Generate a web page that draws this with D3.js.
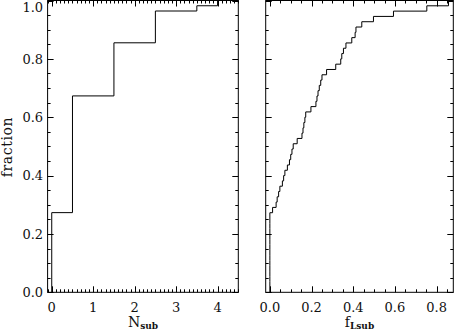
<!DOCTYPE html>
<html><head><meta charset="utf-8">
<script src="https://cdn.jsdelivr.net/npm/d3@7"></script>
<style>
html,body{margin:0;padding:0;background:#fff;}
svg text{font-family:"DejaVu Serif","Liberation Serif",serif;fill:#111;}
</style></head>
<body><svg id="c" width="457" height="332"></svg>
<script>
// ---- data ----
// Left panel: cumulative fraction of N_sub (step edges and levels)
const nsubStepX = [0, 0.5, 1.5, 2.5, 3.5, 4.0];
const nsubFraction = [0.273, 0.673, 0.855, 0.964, 0.982, 1.0];
const nsubTicks = [0, 1, 2, 3, 4];
// Right panel: sorted f_Lsub sample (55 objects; 15 at zero)
const fLsubZeros = 15;
const fLsubValues = [0.013, 0.030, 0.035, 0.042, 0.048, 0.060, 0.066, 0.072, 0.084, 0.094,
  0.100, 0.106, 0.112, 0.131, 0.154, 0.159, 0.163, 0.168, 0.172, 0.197,
  0.221, 0.226, 0.231, 0.237, 0.244, 0.250, 0.272, 0.316, 0.340, 0.345,
  0.353, 0.365, 0.393, 0.409, 0.413, 0.441, 0.497, 0.593, 0.753, 0.857];
const fLsubTicks = [0, 0.2, 0.4, 0.6, 0.8];
const fracTicks = [0, 0.2, 0.4, 0.6, 0.8, 1.0];

(function () {
const svg = d3.select("#c");
const yTop = 0.5, yBot = 292.3;
const y = d3.scaleLinear().domain([0, 1]).range([yBot, yTop]);

function panel(x0, x1, xDomain, majorX, minorStep, yLabels) {
  const x = d3.scaleLinear().domain(xDomain).range([x0, x1]);
  const g = svg.append("g");
  const minorX = d3.range(Math.ceil(xDomain[0] / minorStep - 1e-9), Math.floor(xDomain[1] / minorStep + 1e-9) + 1).map(i => +(i * minorStep).toFixed(4));
  const minorY = d3.range(0, 21).map(i => +(i * 0.05).toFixed(4));
  minorX.forEach(v => {
    const isMaj = majorX.some(m => Math.abs(m - v) < 1e-6);
    const len = isMaj ? 6 : 3;
    const px = Math.round(x(v)) + 0.5;
    g.append("line").attr("x1", px).attr("x2", px).attr("y1", yBot).attr("y2", yBot - len).attr("stroke", "#000");
    g.append("line").attr("x1", px).attr("x2", px).attr("y1", yTop).attr("y2", yTop + len).attr("stroke", "#000");
  });
  minorY.forEach(v => {
    const isMaj = fracTicks.some(m => Math.abs(m - v) < 1e-6);
    const len = isMaj ? 6 : 3;
    const py = Math.round(y(v)) + 0.5;
    g.append("line").attr("x1", x0).attr("x2", x0 + len).attr("y1", py).attr("y2", py).attr("stroke", "#000");
    g.append("line").attr("x1", x1).attr("x2", x1 - len).attr("y1", py).attr("y2", py).attr("stroke", "#000");
  });
  g.append("rect").attr("x", x0).attr("y", yTop).attr("width", x1 - x0).attr("height", yBot - yTop)
    .attr("fill", "none").attr("stroke", "#000").attr("stroke-width", 1);
  majorX.forEach(v => {
    g.append("text").attr("x", x(v)).attr("y", 312).attr("text-anchor", "middle")
      .attr("font-size", 13).text(xDomain[1] < 2 ? v.toFixed(1) : d3.format("d")(v));
  });
  if (yLabels) {
    fracTicks.forEach(v => {
      g.append("text").attr("x", x0 - 4.5).attr("y", Math.max(y(v) + 4.7, 11.5)).attr("text-anchor", "end")
        .attr("font-size", 13).text(v.toFixed(1));
    });
  }
  return {x, g};
}

// Left panel
const Lp = panel(47.6, 238.3, [-0.1, 4.5], nsubTicks, 0.1, true);
const leftPts = [[nsubStepX[0], 0]];
nsubStepX.forEach((sx, i) => leftPts.push([sx, nsubFraction[i]]));
leftPts.push([4.5, 1.0]);
Lp.g.append("path").datum(leftPts)
  .attr("d", d3.line().x(d => Lp.x(d[0])).y(d => y(d[1])).curve(d3.curveStepAfter))
  .attr("fill", "none").attr("stroke", "#000").attr("stroke-width", 1);

// Right panel
const Rp = panel(265.7, 453.3, [-0.02, 0.88], fLsubTicks, 0.05, false);
const sample = d3.range(fLsubZeros).map(() => 0).concat(fLsubValues).sort(d3.ascending);
const N = sample.length;
const rightPts = [[0, 0]];
sample.forEach((v, i) => rightPts.push([v, (i + 1) / N]));
rightPts.push([0.88, 1.0]);
Rp.g.append("path").datum(rightPts)
  .attr("d", d3.line().x(d => Rp.x(d[0])).y(d => y(d[1])).curve(d3.curveStepAfter))
  .attr("fill", "none").attr("stroke", "#000").attr("stroke-width", 1);

// Axis titles
svg.append("text").attr("transform", "translate(12,147) rotate(-90)").attr("text-anchor", "middle")
  .attr("font-size", 14).attr("letter-spacing", "0.6").text("fraction");
const t1 = svg.append("text").attr("x", 143).attr("y", 326.5).attr("text-anchor", "middle").attr("font-size", 14);
t1.append("tspan").text("N");
t1.append("tspan").attr("font-size", 9).attr("font-weight", "bold").attr("dy", 2.5).text("sub");
const t2 = svg.append("text").attr("x", 359.5).attr("y", 326.5).attr("text-anchor", "middle").attr("font-size", 14);
t2.append("tspan").text("f");
t2.append("tspan").attr("font-size", 9).attr("font-weight", "bold").attr("dy", 2.5).text("Lsub");
})();
</script></body></html>
